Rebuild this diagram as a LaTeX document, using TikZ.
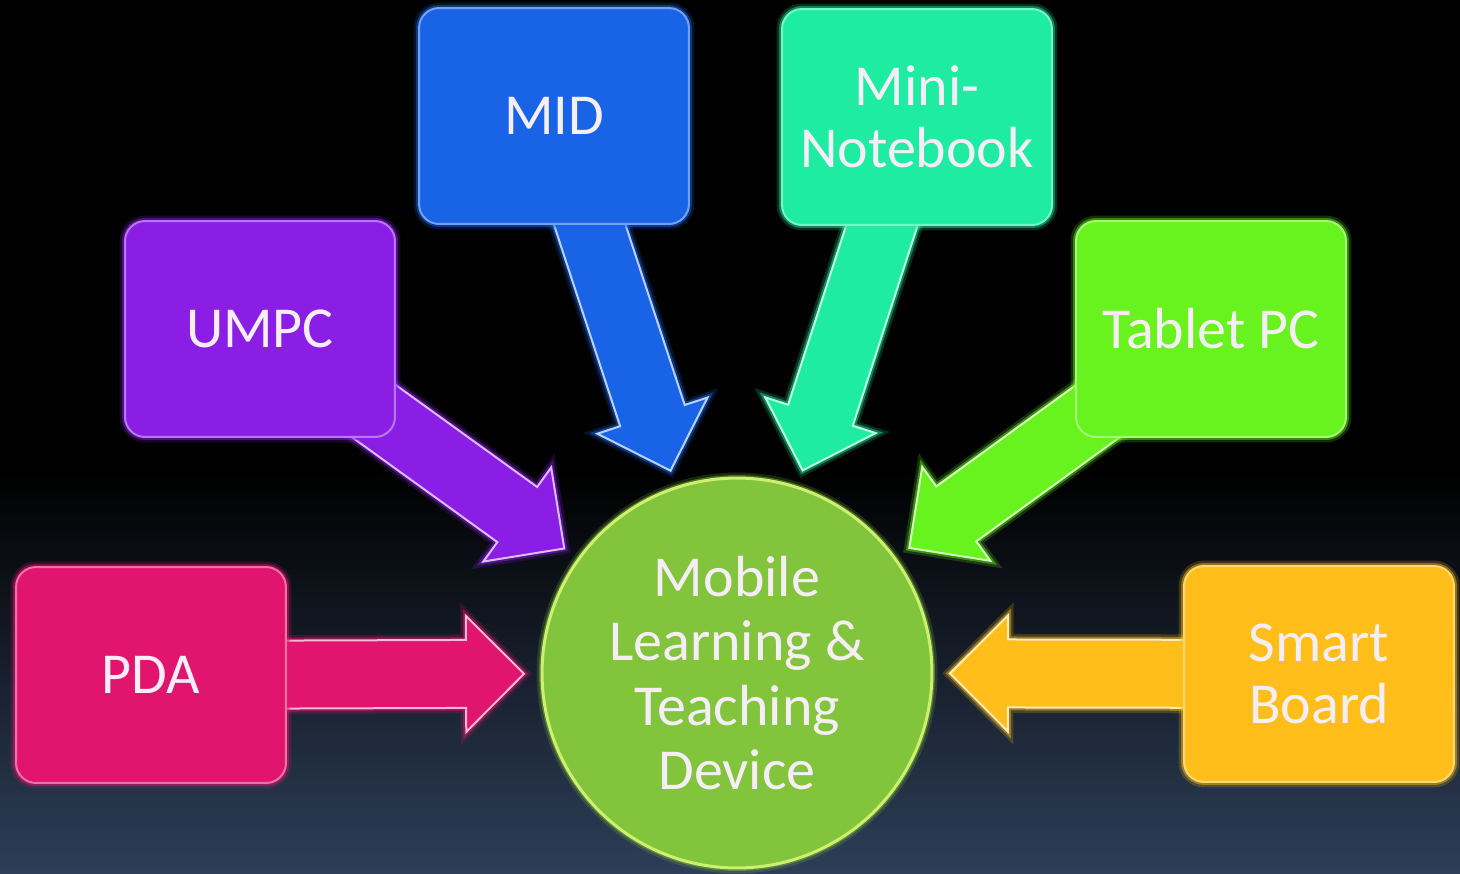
\documentclass[tikz,border=0pt]{standalone}
\usepackage{fontspec}
\setmainfont{Carlito}
\usepackage{xcolor}
\usetikzlibrary{calc,positioning,shadings}

\definecolor{pdacol}{RGB}{225,20,110}
\definecolor{umpccol}{RGB}{138,30,228}
\definecolor{midcol}{RGB}{25,100,230}
\definecolor{minicol}{RGB}{30,236,162}
\definecolor{tabcol}{RGB}{104,242,30}
\definecolor{smartcol}{RGB}{255,190,25}
\definecolor{hubcol}{RGB}{130,196,60}
\definecolor{hubedge}{RGB}{205,240,110}
\definecolor{bgcol}{RGB}{46,62,88}
\definecolor{txtcol}{RGB}{246,238,246}

\pgfdeclarelayer{back}
\pgfdeclarelayer{mid}
\pgfsetlayers{back,mid,main}

\tikzset{%
	glow/.style      = {preaction={draw=#1, line width=0.22cm, opacity=0.2}, preaction={draw=#1, line width=0.12cm, opacity=0.45}},
	box/.style       = {rectangle, rounded corners=0.4cm, minimum width=5.4cm, minimum height=4.32cm, fill=#1, draw=#1!60!white, line width=0.04cm, glow=#1, align=center, text=txtcol, font=\fontsize{33}{35}\selectfont},
	hubstyle/.style  = {circle, minimum size=7.8cm, inner sep=0pt, fill=hubcol, draw=hubedge, line width=0.06cm, glow=hubcol, align=center, text=txtcol, font=\fontsize{33}{36.5}\selectfont},
	arrowbody/.style = {fill=#1, draw=#1!30!white, line width=0.04cm, glow=#1},
}

\begin{document}
\begin{tikzpicture}[x=0.02cm, y=-0.02cm]
	\useasboundingbox (0,0) rectangle (1460,873);
	\begin{pgfonlayer}{back}
		\fill[black] (0,0) rectangle (1460,873);
		\shade[top color=black, bottom color=bgcol] (0,470) rectangle (1460,873);
	\end{pgfonlayer}
	
	\node[hubstyle] (hub) at (737,673) {Mobile\\Learning \&\\Teaching\\Device};
	
	\node[box=pdacol]   (pda)    at (151,675)  {PDA};
	\node[box=umpccol]  (umpc)   at (260,329)  {UMPC};
	\node[box=midcol]   (mid)    at (554,116)  {MID};
	\node[box=minicol]  (mini)   at (917,117)  {Mini-\\Notebook};
	\node[box=tabcol]   (tablet) at (1211,329) {Tablet PC};
	\node[box=smartcol] (smart)  at (1319,674) {Smart\\Board};
	
	% block arrows, tucked under the boxes
	\begin{pgfonlayer}{mid}
		\foreach \src/\col in {pda/pdacol, umpc/umpccol, mid/midcol, mini/minicol, tablet/tabcol, smart/smartcol} {
			\coordinate (tip) at ($(hub)!4.26cm!(\src)$);
			\coordinate (hb) at ($(tip)!1.16cm!(\src)$);
			\draw[arrowbody=\col] ($(\src)!0.68cm!90:(hub)$) -- ($(hb)!0.68cm!90:(tip)$) -- ($(hb)!1.16cm!90:(tip)$) -- (tip) -- ($(hb)!1.16cm!-90:(tip)$) -- ($(hb)!0.68cm!-90:(tip)$) -- ($(\src)!0.68cm!-90:(hub)$) -- cycle;
		}
	\end{pgfonlayer}
\end{tikzpicture}
\end{document}
